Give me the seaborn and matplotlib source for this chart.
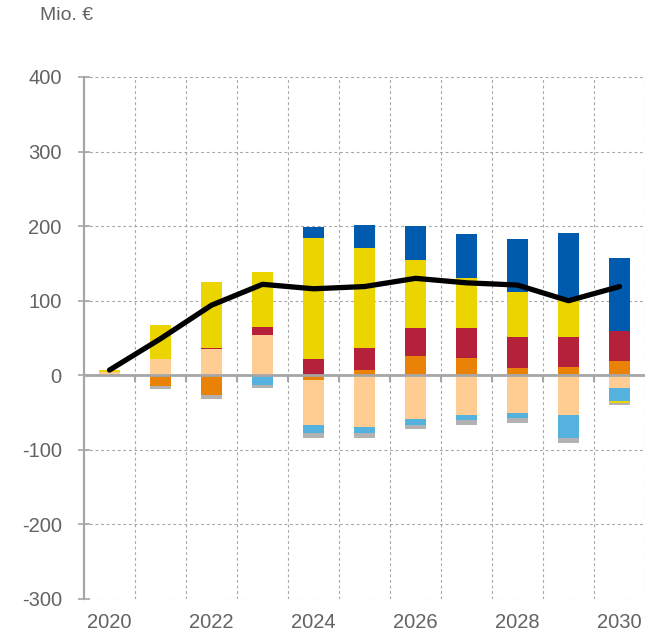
import numpy as np
import pandas as pd
import matplotlib
matplotlib.use("Agg")
import matplotlib.pyplot as plt
import seaborn as sns

# Jahre und Komponenten (Mio. €)
years = [2020, 2021, 2022, 2023, 2024, 2025, 2026, 2027, 2028, 2029, 2030]
orange = [0, -15, -27, 0, -6, 7, 26, 23, 10, 11, 19]
peach = [4, 22, 35, 54, -60, -69, -59, -53, -51, -53, -17]
red = [0, 0, 1, 11, 22, 30, 37, 40, 41, 41, 40]
lightblue = [0, 0, 0, -13, -12, -9, -7, -7, -6, -31, -17]
yellow = [3, 45, 89, 73, 162, 134, 92, 67, 61, 52, -2.5]
darkblue = [0, 0, 0, 0, 15, 31, 45, 59, 71, 87, 98]
grey = [0, -3, -5, -4, -6, -6, -6, -6, -7, -7, -3]
total = [7, 49, 94, 122, 116, 119, 130, 124, 121, 100, 119]

series = [
    (orange, "#EA8208"),
    (peach, "#FFCC92"),
    (red, "#B5203B"),
    (lightblue, "#55B1DE"),
    (yellow, "#EBD400"),
    (darkblue, "#005BAF"),
    (grey, "#B2B2B2"),
]

sns.set_style("white")
plt.rcParams["font.family"] = ["Liberation Sans", "DejaVu Sans"]
plt.rcParams["axes.unicode_minus"] = False

AX_GREY = "#A6A6A6"
TXT_GREY = "#636363"

fig = plt.figure(figsize=(6.56, 6.34), dpi=100)
ax = fig.add_axes([84 / 656, 1 - 599 / 634, (645 - 84) / 656, (599 - 77) / 634])

labels = [str(y) for y in years]
pos_base = np.zeros(len(years))
neg_base = np.zeros(len(years))
for vals, color in series:
    v = np.asarray(vals, dtype=float)
    bottom = np.where(v >= 0, pos_base, neg_base)
    df = pd.DataFrame({"year": labels, "value": v})
    sns.barplot(data=df, x="year", y="value", order=labels, bottom=bottom,
                color=color, saturation=1, width=0.41, ax=ax,
                edgecolor="none", linewidth=0, errorbar=None, zorder=3)
    pos_base += np.where(v >= 0, v, 0)
    neg_base += np.where(v < 0, v, 0)

xpos = np.arange(len(years))
sns.lineplot(x=xpos, y=total, color="black", linewidth=3.8, ax=ax,
             zorder=5, solid_capstyle="round", solid_joinstyle="round")

ax.set_xlim(-0.5, len(years) - 0.5)
ax.set_ylim(-300, 400)
ax.set_yticks(np.arange(-300, 401, 100))

grid_kw = dict(color=AX_GREY, linewidth=0.8, linestyle=(0, (2.5, 2.5)), zorder=1)
for yv in np.arange(-300, 401, 100):
    if yv != 0:
        ax.axhline(yv, **grid_kw)
for xb in np.arange(-0.5, len(years), 1.0)[1:]:
    ax.axvline(xb, **grid_kw)

# Nulllinie mit kurzen Teilstrichen zwischen den Jahren
ax.axhline(0, color=AX_GREY, linewidth=2.0, zorder=4)
ax.vlines(np.arange(0.5, len(years) - 0.5, 1.0), -9, 0, color=AX_GREY,
          linewidth=1.5, zorder=4)

for s in ["top", "right", "bottom"]:
    ax.spines[s].set_visible(False)
ax.spines["left"].set_color(AX_GREY)
ax.spines["left"].set_linewidth(1.6)

ax.set_xticks(xpos)
ax.set_xticklabels([l if i % 2 == 0 else "" for i, l in enumerate(labels)])
ax.tick_params(axis="x", length=0, pad=10, labelsize=14.5, labelcolor=TXT_GREY)
ax.tick_params(axis="y", direction="inout", length=8, width=1.2, color=AX_GREY,
               pad=12, labelsize=14.5, labelcolor=TXT_GREY, left=True)
ax.set_xlabel("")
ax.set_ylabel("")

fig.text(40 / 656, 1 - 16 / 634, "Mio. €", fontsize=14, color=TXT_GREY,
         ha="left", va="center")

fig.savefig("out.png", dpi=100)
